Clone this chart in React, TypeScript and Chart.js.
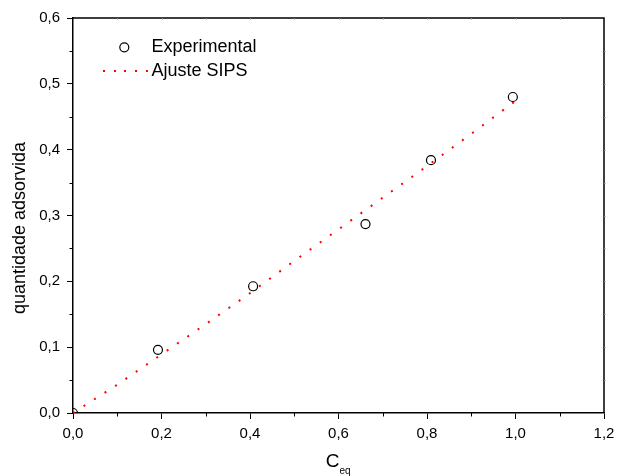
import React, { useEffect, useRef } from "react";
import { Chart, registerables } from "chart.js";

Chart.register(...registerables);

const expX = [0, 0.192, 0.407, 0.661, 0.809, 0.994];
const expY = [0, 0.096, 0.1925, 0.287, 0.384, 0.48];
const fitX = [0, 0.1, 0.2, 0.3, 0.4, 0.5, 0.6, 0.7, 0.8, 0.9, 1.0];
const fitY = [0, 0.043, 0.089, 0.135, 0.182, 0.231, 0.279, 0.327, 0.375, 0.424, 0.474];
const xMinorTicks = [0.1, 0.3, 0.5, 0.7, 0.9, 1.1];
const yMinorTicks = [0.05, 0.15, 0.25, 0.35, 0.45, 0.55];
const xAllTicks = [0.1, 0.2, 0.3, 0.4, 0.5, 0.6, 0.7, 0.8, 0.9, 1.0, 1.1];
const yAllTicks = [0.05, 0.1, 0.15, 0.2, 0.25, 0.3, 0.35, 0.4, 0.45, 0.5, 0.55];
const legendLabels = ["Experimental", "Ajuste SIPS"];
const xTitleMain = "C";
const xTitleSub = "eq";
const yTitle = "quantidade adsorvida";

const FONT = "'Liberation Sans', Arial, Helvetica, sans-serif";
const fmt = (v: number) => v.toFixed(1).replace(".", ",");

const decorPlugin = {
  id: "decor",
  afterDraw(chart: any) {
    const { ctx, chartArea, scales } = chart;
    const xs = scales.x;
    const ys = scales.y;
    const { left, right, top, bottom } = chartArea;
    ctx.save();
    // frame top/right
    ctx.strokeStyle = "#000";
    ctx.lineWidth = 1.5;
    ctx.beginPath();
    ctx.moveTo(left, top);
    ctx.lineTo(right, top);
    ctx.lineTo(right, bottom);
    ctx.stroke();
    // minor ticks
    ctx.lineWidth = 1;
    ctx.beginPath();
    xMinorTicks.forEach((v) => {
      const px = Math.round(xs.getPixelForValue(v)) + 0.5;
      ctx.moveTo(px, bottom);
      ctx.lineTo(px, bottom + 3.5);
    });
    yMinorTicks.forEach((v) => {
      const py = Math.round(ys.getPixelForValue(v)) + 0.5;
      ctx.moveTo(left, py);
      ctx.lineTo(left - 3.5, py);
    });
    ctx.stroke();
    // tiny marks top/right
    ctx.strokeStyle = "#888";
    ctx.beginPath();
    xAllTicks.forEach((v) => {
      const px = Math.round(xs.getPixelForValue(v)) + 0.5;
      ctx.moveTo(px, top);
      ctx.lineTo(px, top + 1.5);
    });
    yAllTicks.forEach((v) => {
      const py = Math.round(ys.getPixelForValue(v)) + 0.5;
      ctx.moveTo(right, py);
      ctx.lineTo(right + 1.5, py);
    });
    ctx.stroke();

    // legend
    ctx.strokeStyle = "#000";
    ctx.lineWidth = 1.2;
    ctx.beginPath();
    ctx.arc(124.3, 47.3, 4.5, 0, Math.PI * 2);
    ctx.stroke();
    ctx.fillStyle = "red";
    for (let x = 103; x <= 147; x += 10.7) {
      ctx.fillRect(Math.round(x), 70, 2, 2);
    }
    ctx.fillStyle = "#000";
    ctx.font = `18px ${FONT}`;
    ctx.textAlign = "left";
    ctx.textBaseline = "middle";
    ctx.fillText(legendLabels[0], 151.5, 47.5);
    ctx.fillText(legendLabels[1], 151.5, 71);

    // x title
    const cx = (left + right) / 2;
    ctx.font = `19px ${FONT}`;
    ctx.textAlign = "center";
    ctx.textBaseline = "alphabetic";
    ctx.fillText(xTitleMain, cx - 6, 467);
    ctx.font = `10px ${FONT}`;
    ctx.textAlign = "left";
    ctx.fillText(xTitleSub, cx + 1, 474);

    // y title
    ctx.translate(20, 228);
    ctx.rotate(-Math.PI / 2);
    ctx.font = `18px ${FONT}`;
    ctx.textAlign = "center";
    ctx.textBaseline = "middle";
    ctx.fillText(yTitle, 0, 0);
    ctx.restore();
  },
};

export default function App() {
  const ref = useRef<HTMLCanvasElement>(null);
  useEffect(() => {
    document.body.style.margin = "0";
    const canvas = ref.current!;
    const chart = new Chart(canvas, {
      type: "scatter",
      data: {
        datasets: [
          {
            label: legendLabels[0],
            data: expX.map((x, i) => ({ x, y: expY[i] })),
            pointStyle: "circle",
            pointRadius: 4.5,
            pointBorderWidth: 1.2,
            pointBorderColor: "#000",
            pointBackgroundColor: "rgba(0,0,0,0)",
            showLine: false,
            clip: 0,
            order: 0,
          } as any,
          {
            label: legendLabels[1],
            data: fitX.map((x, i) => ({ x, y: fitY[i] })),
            showLine: true,
            borderColor: "#ff0000",
            borderWidth: 2,
            borderDash: [2, 10.5],
            borderCapStyle: "butt",
            pointRadius: 0,
            tension: 0,
            clip: 0,
            order: 1,
          } as any,
        ],
      },
      options: {
        responsive: false,
        animation: false,
        devicePixelRatio: 1,
        layout: { padding: { top: 18, right: 17, left: 0, bottom: 0 } },
        plugins: {
          legend: { display: false },
          tooltip: { enabled: false },
        },
        scales: {
          x: {
            type: "linear",
            min: 0,
            max: 1.2,
            afterFit: (s: any) => {
              s.height = 63;
            },
            ticks: {
              stepSize: 0.2,
              padding: 6,
              color: "#000",
              font: { family: FONT, size: 15 },
              callback: (v: any) => fmt(Number(v)),
              maxRotation: 0,
            },
            grid: {
              drawOnChartArea: false,
              drawTicks: true,
              tickLength: 6,
              tickColor: "#000",
              tickWidth: 1,
            },
            border: { display: true, color: "#000", width: 1.5 },
          },
          y: {
            type: "linear",
            min: 0,
            max: 0.6,
            afterFit: (s: any) => {
              s.width = 73;
            },
            ticks: {
              stepSize: 0.1,
              padding: 7,
              color: "#000",
              font: { family: FONT, size: 15 },
              callback: (v: any) => fmt(Number(v)),
            },
            grid: {
              drawOnChartArea: false,
              drawTicks: true,
              tickLength: 6,
              tickColor: "#000",
              tickWidth: 1,
            },
            border: { display: true, color: "#000", width: 1.5 },
          },
        },
      } as any,
      plugins: [decorPlugin],
    });
    return () => chart.destroy();
  }, []);
  return (
    <div style={{ width: 621, height: 476 }}>
      <canvas ref={ref} width={621} height={476} />
    </div>
  );
}
